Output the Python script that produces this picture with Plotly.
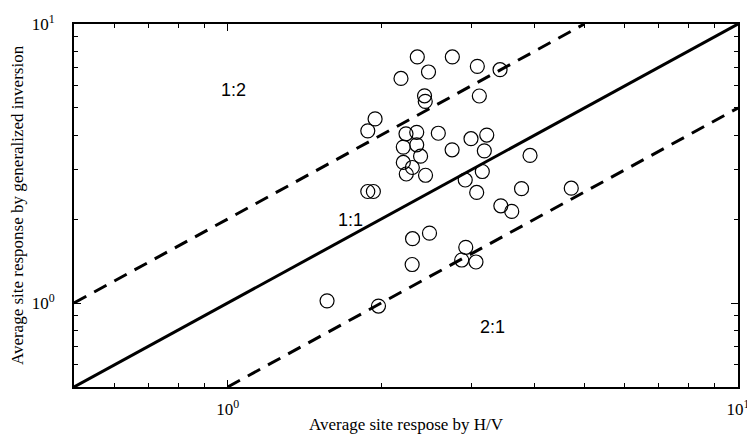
import numpy as np
import plotly.graph_objects as go

# ---- data ----
hv = [2.353, 2.756, 3.085, 3.418, 2.186, 2.475, 2.431, 2.439, 3.113, 1.945,
      1.882, 2.236, 2.347, 2.587, 2.209, 2.347, 2.998, 3.219, 2.753, 3.184,
      2.388, 2.209, 2.301, 2.239, 2.442, 3.913, 3.155, 2.921, 3.076, 3.766,
      4.713, 3.430, 3.603, 1.882, 1.930, 2.303, 2.486, 2.299, 2.928, 2.875,
      3.066, 1.566, 1.975]
gi = [7.62, 7.62, 7.05, 6.86, 6.38, 6.73, 5.53, 5.28, 5.52, 4.57,
      4.14, 4.04, 4.09, 4.06, 3.62, 3.69, 3.88, 4.00, 3.54, 3.51,
      3.36, 3.19, 3.06, 2.90, 2.87, 3.38, 2.96, 2.76, 2.49, 2.57,
      2.58, 2.23, 2.13, 2.51, 2.51, 1.70, 1.78, 1.374, 1.584, 1.426,
      1.403, 1.018, 0.975]

ratios = [1.0, 2.0, 0.5]
ratio_labels = ["1:1", "1:2", "2:1"]
label_x = [1.742, 1.026, 3.307]
label_y = [1.985, 5.81, 0.821]

axis_min, axis_max = 0.5, 10.0
major_ticks = [1, 10]
major_text = ["10<sup>0</sup>", "10<sup>1</sup>"]
minor_ticks = [0.6, 0.7, 0.8, 0.9, 2, 3, 4, 5, 6, 7, 8, 9]

fig = go.Figure()

for r in ratios:
    x0 = max(axis_min, axis_min / r)
    x1 = min(axis_max, axis_max / r)
    xs = [x0, x1]
    ys = [r * v for v in xs]
    fig.add_trace(go.Scatter(
        x=xs, y=ys, mode="lines",
        line=dict(color="black", width=3,
                  dash="solid" if r == 1.0 else "14px,9px"),
        hoverinfo="skip", showlegend=False))

fig.add_trace(go.Scatter(
    x=hv, y=gi, mode="markers",
    marker=dict(symbol="circle-open", size=14, color="black",
                line=dict(width=1.2, color="black")),
    showlegend=False))

for t, lx, ly in zip(ratio_labels, label_x, label_y):
    fig.add_annotation(x=np.log10(lx), y=np.log10(ly), text=t, showarrow=False,
                       font=dict(family="Liberation Sans, Arial", size=18, color="black"),
                       xanchor="center", yanchor="middle")

axis_common = dict(
    type="log", automargin=False,
    range=[np.log10(axis_min), np.log10(axis_max)],
    tickmode="array", tickvals=major_ticks, ticktext=major_text,
    ticks="inside", ticklen=7, tickwidth=1, tickcolor="black",
    minor=dict(tickmode="array", tickvals=minor_ticks, ticks="inside",
               ticklen=4, tickwidth=1, tickcolor="black", showgrid=False),
    showline=True, linewidth=2, linecolor="black", mirror="allticks",
    showgrid=False, zeroline=False, ticklabeloverflow="allow",
    tickfont=dict(family="Liberation Serif, Times New Roman", size=17, color="black"),
)

fig.update_layout(
    width=747, height=435,
    margin=dict(l=74, r=9, t=24, b=48),
    paper_bgcolor="white", plot_bgcolor="white",
    xaxis=dict(**axis_common, ticklabelstandoff=6,
               title=dict(text="Average site respose by H/V", standoff=0,
                          font=dict(family="Liberation Serif, Times New Roman", size=17, color="black"))),
    yaxis=dict(**axis_common, ticklabelstandoff=14,
               title=dict(text="Average site response by generalized inversion", standoff=4,
                          font=dict(family="Liberation Serif, Times New Roman", size=17, color="black"))),
)

fig.write_html("out.html")
